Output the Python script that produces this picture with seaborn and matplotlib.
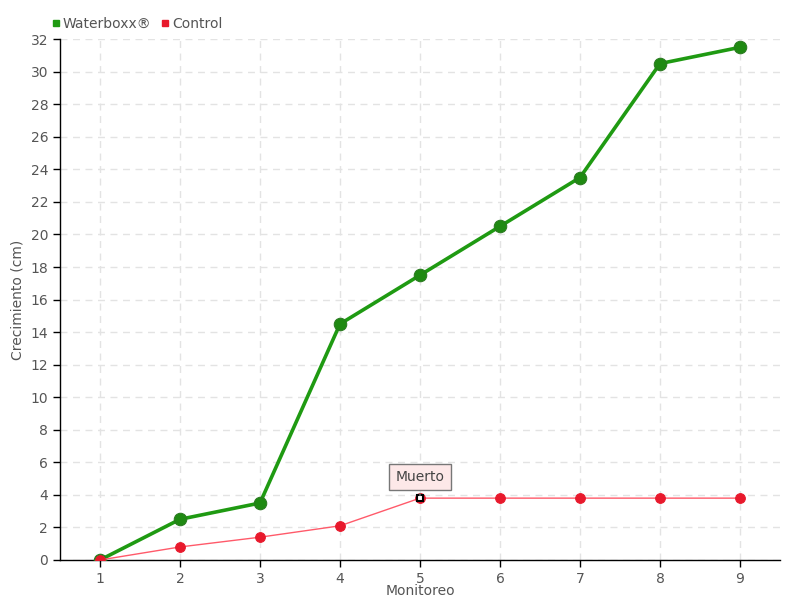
import pandas as pd
import matplotlib.pyplot as plt
import seaborn as sns

# Data
monitoreo = [1, 2, 3, 4, 5, 6, 7, 8, 9]
waterboxx = [0, 2.5, 3.5, 14.5, 17.5, 20.5, 23.5, 30.5, 31.5]
control = [0, 0.8, 1.4, 2.1, 3.8, 3.8, 3.8, 3.8, 3.8]
y_ticks = list(range(0, 33, 2))

df = pd.DataFrame({
    "Monitoreo": monitoreo * 2,
    "Crecimiento": waterboxx + control,
    "Serie": ["Waterboxx®"] * len(monitoreo) + ["Control"] * len(monitoreo),
})

sns.set_style("white")
plt.rcParams["font.family"] = ["DejaVu Sans"]

fig = plt.figure(figsize=(8, 6), dpi=100)
ax = fig.add_axes([0.075, 0.0667, 0.9, 0.868])

text_col = "#555555"

# Waterboxx line
sns.lineplot(
    data=df[df["Serie"] == "Waterboxx®"], x="Monitoreo", y="Crecimiento",
    color="#1f9a12", linewidth=2.6, marker="o", markersize=9,
    markerfacecolor="#1f8a12", markeredgecolor="#2a7a20", ax=ax, zorder=3,
)
# Control line
sns.lineplot(
    data=df[df["Serie"] == "Control"], x="Monitoreo", y="Crecimiento",
    color="#ff5a6a", linewidth=1, marker="o", markersize=7,
    markerfacecolor="#e8192c", markeredgecolor="#e8192c", ax=ax, zorder=4,
)

# highlighted point
ax.plot(monitoreo[4], control[4], marker="s", markersize=5,
        markerfacecolor="white", markeredgecolor="black", markeredgewidth=1.5, zorder=6)

ax.annotate(
    "Muerto", xy=(monitoreo[4], control[4]), xytext=(monitoreo[4], control[4] + 1.3),
    ha="center", va="center", fontsize=10, color="#444444",
    bbox=dict(boxstyle="square,pad=0.45", fc="#fde8e8", ec="#777777", lw=1),
    arrowprops=dict(arrowstyle="-", color="#777777", lw=1), zorder=7,
)

ax.set_xlim(0.5, 9.5)
ax.set_ylim(0, 32)
ax.set_xticks(monitoreo)
ax.set_yticks(y_ticks)

ax.grid(True, color="#e3e3e3", linestyle=(0, (5, 4)), linewidth=1)
ax.set_axisbelow(True)

for side in ["top", "right"]:
    ax.spines[side].set_visible(False)
for side in ["left", "bottom"]:
    ax.spines[side].set_color("black")
    ax.spines[side].set_linewidth(1)

ax.tick_params(axis="both", direction="out", length=5, width=1, color="black",
               labelsize=10, labelcolor=text_col, bottom=True, left=True)

ax.set_xlabel("Monitoreo", fontsize=10, color=text_col, labelpad=-1)
ax.set_ylabel("Crecimiento (cm)", fontsize=10, color=text_col, labelpad=4)

# Legend
handles = [
    plt.Line2D([], [], marker="s", linestyle="", color="#1f9a12", markersize=5),
    plt.Line2D([], [], marker="s", linestyle="", color="#e8192c", markersize=5),
]
ax.legend(handles, ["Waterboxx®", "Control"], loc="lower left",
          bbox_to_anchor=(-0.025, 1.0), ncol=2, frameon=False, fontsize=10,
          handletextpad=0.1, columnspacing=0.6, handlelength=0.8,
          labelcolor=text_col, borderaxespad=0.2)

plt.savefig("out.png", dpi=100)
